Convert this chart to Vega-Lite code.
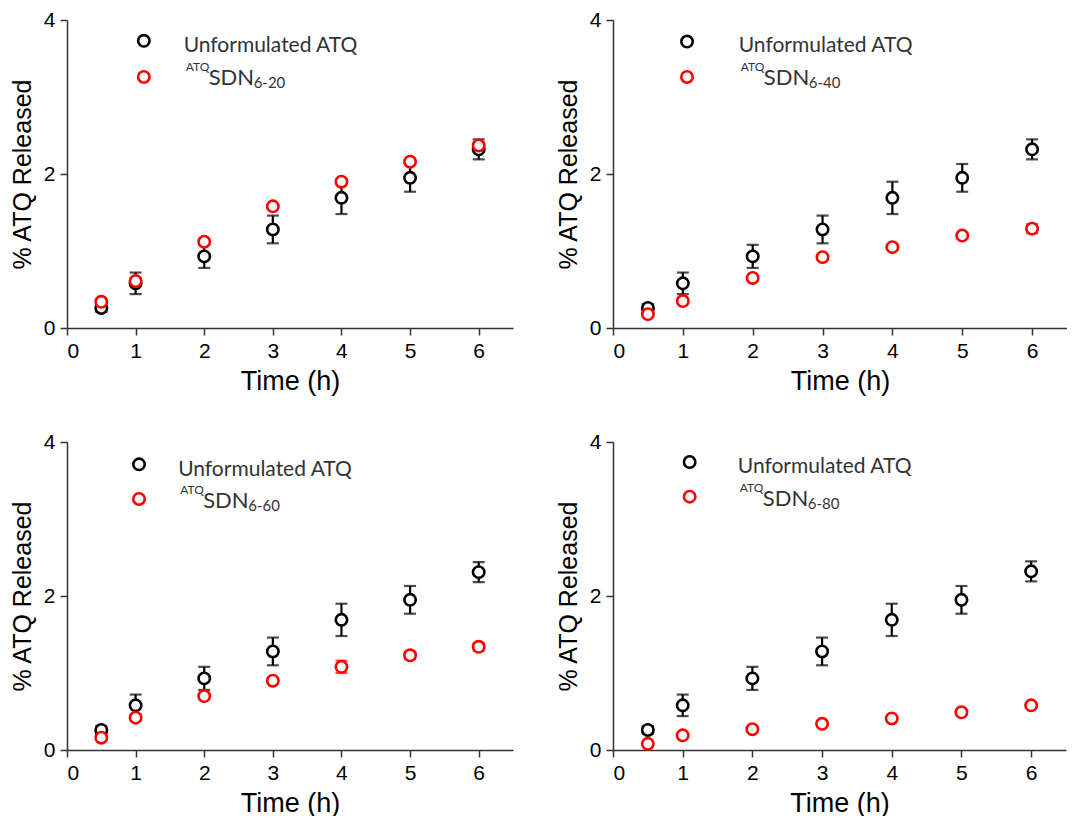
{
  "$schema": "https://vega.github.io/schema/vega-lite/v6.json",
  "autosize": {"type": "pad"},
  "padding": {"left": 10, "top": 9, "right": 0, "bottom": 0},
  "background": "white",
  "data": {"values": [
    {"panel": 1, "series": "Unformulated ATQ", "t": 0.5, "v": 0.26, "e": 0.05},
    {"panel": 1, "series": "Unformulated ATQ", "t": 1, "v": 0.58, "e": 0.14},
    {"panel": 1, "series": "Unformulated ATQ", "t": 2, "v": 0.93, "e": 0.15},
    {"panel": 1, "series": "Unformulated ATQ", "t": 3, "v": 1.28, "e": 0.18},
    {"panel": 1, "series": "Unformulated ATQ", "t": 4, "v": 1.69, "e": 0.21},
    {"panel": 1, "series": "Unformulated ATQ", "t": 5, "v": 1.95, "e": 0.18},
    {"panel": 1, "series": "Unformulated ATQ", "t": 6, "v": 2.32, "e": 0.13},
    {"panel": 1, "series": "SDN", "t": 0.5, "v": 0.34, "e": 0.03},
    {"panel": 1, "series": "SDN", "t": 1, "v": 0.61, "e": 0.03},
    {"panel": 1, "series": "SDN", "t": 2, "v": 1.12, "e": 0.03},
    {"panel": 1, "series": "SDN", "t": 3, "v": 1.58, "e": 0.03},
    {"panel": 1, "series": "SDN", "t": 4, "v": 1.9, "e": 0.03},
    {"panel": 1, "series": "SDN", "t": 5, "v": 2.16, "e": 0.03},
    {"panel": 1, "series": "SDN", "t": 6, "v": 2.37, "e": 0.04},
    {"panel": 2, "series": "Unformulated ATQ", "t": 0.5, "v": 0.26, "e": 0.05},
    {"panel": 2, "series": "Unformulated ATQ", "t": 1, "v": 0.58, "e": 0.14},
    {"panel": 2, "series": "Unformulated ATQ", "t": 2, "v": 0.93, "e": 0.15},
    {"panel": 2, "series": "Unformulated ATQ", "t": 3, "v": 1.28, "e": 0.18},
    {"panel": 2, "series": "Unformulated ATQ", "t": 4, "v": 1.69, "e": 0.21},
    {"panel": 2, "series": "Unformulated ATQ", "t": 5, "v": 1.95, "e": 0.18},
    {"panel": 2, "series": "Unformulated ATQ", "t": 6, "v": 2.32, "e": 0.13},
    {"panel": 2, "series": "SDN", "t": 0.5, "v": 0.18, "e": 0.03},
    {"panel": 2, "series": "SDN", "t": 1, "v": 0.35, "e": 0.03},
    {"panel": 2, "series": "SDN", "t": 2, "v": 0.65, "e": 0.03},
    {"panel": 2, "series": "SDN", "t": 3, "v": 0.92, "e": 0.03},
    {"panel": 2, "series": "SDN", "t": 4, "v": 1.05, "e": 0.03},
    {"panel": 2, "series": "SDN", "t": 5, "v": 1.2, "e": 0.03},
    {"panel": 2, "series": "SDN", "t": 6, "v": 1.29, "e": 0.06},
    {"panel": 3, "series": "Unformulated ATQ", "t": 0.5, "v": 0.26, "e": 0.05},
    {"panel": 3, "series": "Unformulated ATQ", "t": 1, "v": 0.58, "e": 0.14},
    {"panel": 3, "series": "Unformulated ATQ", "t": 2, "v": 0.93, "e": 0.15},
    {"panel": 3, "series": "Unformulated ATQ", "t": 3, "v": 1.28, "e": 0.18},
    {"panel": 3, "series": "Unformulated ATQ", "t": 4, "v": 1.69, "e": 0.21},
    {"panel": 3, "series": "Unformulated ATQ", "t": 5, "v": 1.95, "e": 0.18},
    {"panel": 3, "series": "Unformulated ATQ", "t": 6, "v": 2.31, "e": 0.13},
    {"panel": 3, "series": "SDN", "t": 0.5, "v": 0.16, "e": 0.03},
    {"panel": 3, "series": "SDN", "t": 1, "v": 0.42, "e": 0.04},
    {"panel": 3, "series": "SDN", "t": 2, "v": 0.7, "e": 0.03},
    {"panel": 3, "series": "SDN", "t": 3, "v": 0.9, "e": 0.03},
    {"panel": 3, "series": "SDN", "t": 4, "v": 1.08, "e": 0.08},
    {"panel": 3, "series": "SDN", "t": 5, "v": 1.23, "e": 0.05},
    {"panel": 3, "series": "SDN", "t": 6, "v": 1.34, "e": 0.05},
    {"panel": 4, "series": "Unformulated ATQ", "t": 0.5, "v": 0.26, "e": 0.05},
    {"panel": 4, "series": "Unformulated ATQ", "t": 1, "v": 0.58, "e": 0.14},
    {"panel": 4, "series": "Unformulated ATQ", "t": 2, "v": 0.93, "e": 0.15},
    {"panel": 4, "series": "Unformulated ATQ", "t": 3, "v": 1.28, "e": 0.18},
    {"panel": 4, "series": "Unformulated ATQ", "t": 4, "v": 1.69, "e": 0.21},
    {"panel": 4, "series": "Unformulated ATQ", "t": 5, "v": 1.95, "e": 0.18},
    {"panel": 4, "series": "Unformulated ATQ", "t": 6, "v": 2.32, "e": 0.13},
    {"panel": 4, "series": "SDN", "t": 0.5, "v": 0.08, "e": 0.02},
    {"panel": 4, "series": "SDN", "t": 1, "v": 0.19, "e": 0.02},
    {"panel": 4, "series": "SDN", "t": 2, "v": 0.27, "e": 0.02},
    {"panel": 4, "series": "SDN", "t": 3, "v": 0.34, "e": 0.02},
    {"panel": 4, "series": "SDN", "t": 4, "v": 0.41, "e": 0.02},
    {"panel": 4, "series": "SDN", "t": 5, "v": 0.49, "e": 0.02},
    {"panel": 4, "series": "SDN", "t": 6, "v": 0.58, "e": 0.02}
  ]},
  "spacing": 37,
  "vconcat": [
    {
      "spacing": 43,
      "hconcat": [
        {
          "width": 446, "height": 308,
          "transform": [{"filter": "datum.panel == 1"}],
          "layer": [
            {"mark": {"type": "errorbar", "ticks": {"size": 12}, "thickness": 2.2},
             "encoding": {
               "x": {"field": "t", "type": "quantitative", "scale": {"domain": [0, 6.5], "nice": false}, "axis": {"values": [0,1,2,3,4,5,6], "format": "d", "title": "Time (h)"}},
               "y": {"field": "v", "type": "quantitative", "scale": {"domain": [0, 4], "nice": false}, "axis": {"values": [0,2,4], "format": "d", "title": "% ATQ Released"}},
               "yError": {"field": "e"},
               "color": {"field": "series", "type": "nominal", "scale": {"domain": ["Unformulated ATQ", "SDN"], "range": ["#000000", "#ff0000"]}, "legend": null}}},
            {"mark": {"type": "point", "shape": "circle", "size": 130, "strokeWidth": 2.6, "filled": true, "fill": "white", "opacity": 1},
             "encoding": {
               "x": {"field": "t", "type": "quantitative"},
               "y": {"field": "v", "type": "quantitative"},
               "stroke": {"field": "series", "type": "nominal", "scale": {"domain": ["Unformulated ATQ", "SDN"], "range": ["#000000", "#ff0000"]}, "legend": null}}},
            {"data": {"values": [{}]},
             "layer": [
               {"mark": {"type": "point", "shape": "circle", "size": 130, "strokeWidth": 2.6, "filled": true, "fill": "white", "stroke": "#000000", "opacity": 1},
                "encoding": {"x": {"datum": 1.12}, "y": {"datum": 3.73}}},
               {"mark": {"type": "point", "shape": "circle", "size": 130, "strokeWidth": 2.6, "filled": true, "fill": "white", "stroke": "#ff0000", "opacity": 1},
                "encoding": {"x": {"datum": 1.12}, "y": {"datum": 3.26}}},
               {"mark": {"type": "text", "text": "Unformulated ATQ", "align": "left", "baseline": "alphabetic", "font": "Lato", "fontSize": 21, "color": "#333333"},
                "encoding": {"x": {"datum": 1.7}, "y": {"datum": 3.58}}},
               {"mark": {"type": "text", "text": "ATQ", "align": "left", "baseline": "alphabetic", "font": "Lato", "fontSize": 12, "color": "#333333", "dx": 2, "dy": -14},
                "encoding": {"x": {"datum": 1.7}, "y": {"datum": 3.16}}},
               {"mark": {"type": "text", "text": "SDN", "align": "left", "baseline": "alphabetic", "font": "Lato", "fontSize": 22, "color": "#333333", "dx": 25},
                "encoding": {"x": {"datum": 1.7}, "y": {"datum": 3.16}}},
               {"mark": {"type": "text", "text": "6-20", "align": "left", "baseline": "alphabetic", "font": "Lato", "fontSize": 15, "color": "#333333", "dx": 70, "dy": 3},
                "encoding": {"x": {"datum": 1.7}, "y": {"datum": 3.16}}}
             ]}
          ]
        },
        {
          "width": 454, "height": 308,
          "transform": [{"filter": "datum.panel == 2"}],
          "layer": [
            {"mark": {"type": "errorbar", "ticks": {"size": 12}, "thickness": 2.2},
             "encoding": {
               "x": {"field": "t", "type": "quantitative", "scale": {"domain": [0, 6.5], "nice": false}, "axis": {"values": [0,1,2,3,4,5,6], "format": "d", "title": "Time (h)"}},
               "y": {"field": "v", "type": "quantitative", "scale": {"domain": [0, 4], "nice": false}, "axis": {"values": [0,2,4], "format": "d", "title": "% ATQ Released"}},
               "yError": {"field": "e"},
               "color": {"field": "series", "type": "nominal", "scale": {"domain": ["Unformulated ATQ", "SDN"], "range": ["#000000", "#ff0000"]}, "legend": null}}},
            {"mark": {"type": "point", "shape": "circle", "size": 130, "strokeWidth": 2.6, "filled": true, "fill": "white", "opacity": 1},
             "encoding": {
               "x": {"field": "t", "type": "quantitative"},
               "y": {"field": "v", "type": "quantitative"},
               "stroke": {"field": "series", "type": "nominal", "scale": {"domain": ["Unformulated ATQ", "SDN"], "range": ["#000000", "#ff0000"]}, "legend": null}}},
            {"data": {"values": [{}]},
             "layer": [
               {"mark": {"type": "point", "shape": "circle", "size": 130, "strokeWidth": 2.6, "filled": true, "fill": "white", "stroke": "#000000", "opacity": 1},
                "encoding": {"x": {"datum": 1.06}, "y": {"datum": 3.72}}},
               {"mark": {"type": "point", "shape": "circle", "size": 130, "strokeWidth": 2.6, "filled": true, "fill": "white", "stroke": "#ff0000", "opacity": 1},
                "encoding": {"x": {"datum": 1.06}, "y": {"datum": 3.26}}},
               {"mark": {"type": "text", "text": "Unformulated ATQ", "align": "left", "baseline": "alphabetic", "font": "Lato", "fontSize": 21, "color": "#333333"},
                "encoding": {"x": {"datum": 1.8}, "y": {"datum": 3.58}}},
               {"mark": {"type": "text", "text": "ATQ", "align": "left", "baseline": "alphabetic", "font": "Lato", "fontSize": 12, "color": "#333333", "dx": 2, "dy": -14},
                "encoding": {"x": {"datum": 1.8}, "y": {"datum": 3.16}}},
               {"mark": {"type": "text", "text": "SDN", "align": "left", "baseline": "alphabetic", "font": "Lato", "fontSize": 22, "color": "#333333", "dx": 25},
                "encoding": {"x": {"datum": 1.8}, "y": {"datum": 3.16}}},
               {"mark": {"type": "text", "text": "6-40", "align": "left", "baseline": "alphabetic", "font": "Lato", "fontSize": 15, "color": "#333333", "dx": 70, "dy": 3},
                "encoding": {"x": {"datum": 1.8}, "y": {"datum": 3.16}}}
             ]}
          ]
        }
      ]
    },
    {
      "spacing": 43,
      "hconcat": [
        {
          "width": 446, "height": 308,
          "transform": [{"filter": "datum.panel == 3"}],
          "layer": [
            {"mark": {"type": "errorbar", "ticks": {"size": 12}, "thickness": 2.2},
             "encoding": {
               "x": {"field": "t", "type": "quantitative", "scale": {"domain": [0, 6.5], "nice": false}, "axis": {"values": [0,1,2,3,4,5,6], "format": "d", "title": "Time (h)"}},
               "y": {"field": "v", "type": "quantitative", "scale": {"domain": [0, 4], "nice": false}, "axis": {"values": [0,2,4], "format": "d", "title": "% ATQ Released"}},
               "yError": {"field": "e"},
               "color": {"field": "series", "type": "nominal", "scale": {"domain": ["Unformulated ATQ", "SDN"], "range": ["#000000", "#ff0000"]}, "legend": null}}},
            {"mark": {"type": "point", "shape": "circle", "size": 130, "strokeWidth": 2.6, "filled": true, "fill": "white", "opacity": 1},
             "encoding": {
               "x": {"field": "t", "type": "quantitative"},
               "y": {"field": "v", "type": "quantitative"},
               "stroke": {"field": "series", "type": "nominal", "scale": {"domain": ["Unformulated ATQ", "SDN"], "range": ["#000000", "#ff0000"]}, "legend": null}}},
            {"data": {"values": [{}]},
             "layer": [
               {"mark": {"type": "point", "shape": "circle", "size": 130, "strokeWidth": 2.6, "filled": true, "fill": "white", "stroke": "#000000", "opacity": 1},
                "encoding": {"x": {"datum": 1.05}, "y": {"datum": 3.71}}},
               {"mark": {"type": "point", "shape": "circle", "size": 130, "strokeWidth": 2.6, "filled": true, "fill": "white", "stroke": "#ff0000", "opacity": 1},
                "encoding": {"x": {"datum": 1.05}, "y": {"datum": 3.26}}},
               {"mark": {"type": "text", "text": "Unformulated ATQ", "align": "left", "baseline": "alphabetic", "font": "Lato", "fontSize": 21, "color": "#333333"},
                "encoding": {"x": {"datum": 1.62}, "y": {"datum": 3.56}}},
               {"mark": {"type": "text", "text": "ATQ", "align": "left", "baseline": "alphabetic", "font": "Lato", "fontSize": 12, "color": "#333333", "dx": 2, "dy": -14},
                "encoding": {"x": {"datum": 1.62}, "y": {"datum": 3.14}}},
               {"mark": {"type": "text", "text": "SDN", "align": "left", "baseline": "alphabetic", "font": "Lato", "fontSize": 22, "color": "#333333", "dx": 25},
                "encoding": {"x": {"datum": 1.62}, "y": {"datum": 3.14}}},
               {"mark": {"type": "text", "text": "6-60", "align": "left", "baseline": "alphabetic", "font": "Lato", "fontSize": 15, "color": "#333333", "dx": 70, "dy": 3},
                "encoding": {"x": {"datum": 1.62}, "y": {"datum": 3.14}}}
             ]}
          ]
        },
        {
          "width": 453, "height": 308,
          "transform": [{"filter": "datum.panel == 4"}],
          "layer": [
            {"mark": {"type": "errorbar", "ticks": {"size": 12}, "thickness": 2.2},
             "encoding": {
               "x": {"field": "t", "type": "quantitative", "scale": {"domain": [0, 6.5], "nice": false}, "axis": {"values": [0,1,2,3,4,5,6], "format": "d", "title": "Time (h)"}},
               "y": {"field": "v", "type": "quantitative", "scale": {"domain": [0, 4], "nice": false}, "axis": {"values": [0,2,4], "format": "d", "title": "% ATQ Released"}},
               "yError": {"field": "e"},
               "color": {"field": "series", "type": "nominal", "scale": {"domain": ["Unformulated ATQ", "SDN"], "range": ["#000000", "#ff0000"]}, "legend": null}}},
            {"mark": {"type": "point", "shape": "circle", "size": 130, "strokeWidth": 2.6, "filled": true, "fill": "white", "opacity": 1},
             "encoding": {
               "x": {"field": "t", "type": "quantitative"},
               "y": {"field": "v", "type": "quantitative"},
               "stroke": {"field": "series", "type": "nominal", "scale": {"domain": ["Unformulated ATQ", "SDN"], "range": ["#000000", "#ff0000"]}, "legend": null}}},
            {"data": {"values": [{}]},
             "layer": [
               {"mark": {"type": "point", "shape": "circle", "size": 130, "strokeWidth": 2.6, "filled": true, "fill": "white", "stroke": "#000000", "opacity": 1},
                "encoding": {"x": {"datum": 1.1}, "y": {"datum": 3.74}}},
               {"mark": {"type": "point", "shape": "circle", "size": 130, "strokeWidth": 2.6, "filled": true, "fill": "white", "stroke": "#ff0000", "opacity": 1},
                "encoding": {"x": {"datum": 1.1}, "y": {"datum": 3.29}}},
               {"mark": {"type": "text", "text": "Unformulated ATQ", "align": "left", "baseline": "alphabetic", "font": "Lato", "fontSize": 21, "color": "#333333"},
                "encoding": {"x": {"datum": 1.79}, "y": {"datum": 3.6}}},
               {"mark": {"type": "text", "text": "ATQ", "align": "left", "baseline": "alphabetic", "font": "Lato", "fontSize": 12, "color": "#333333", "dx": 2, "dy": -14},
                "encoding": {"x": {"datum": 1.79}, "y": {"datum": 3.17}}},
               {"mark": {"type": "text", "text": "SDN", "align": "left", "baseline": "alphabetic", "font": "Lato", "fontSize": 22, "color": "#333333", "dx": 25},
                "encoding": {"x": {"datum": 1.79}, "y": {"datum": 3.17}}},
               {"mark": {"type": "text", "text": "6-80", "align": "left", "baseline": "alphabetic", "font": "Lato", "fontSize": 15, "color": "#333333", "dx": 70, "dy": 3},
                "encoding": {"x": {"datum": 1.79}, "y": {"datum": 3.17}}}
             ]}
          ]
        }
      ]
    }
  ],
  "config": {
    "view": {"stroke": null},
    "axis": {
      "grid": false,
      "domainColor": "#333333",
      "domainWidth": 1.5,
      "tickColor": "#333333",
      "tickWidth": 1.5,
      "tickSize": 7,
      "labelFont": "Liberation Sans",
      "labelFontSize": 21,
      "labelColor": "#000000",
      "labelPadding": 5,
      "titleFont": "Liberation Sans",
      "titleFontWeight": "normal",
      "titleColor": "#000000"
    },
    "axisX": {"titlePadding": 7, "titleFontSize": 27},
    "axisY": {"titlePadding": 8, "titleFontSize": 25}
  }
}
